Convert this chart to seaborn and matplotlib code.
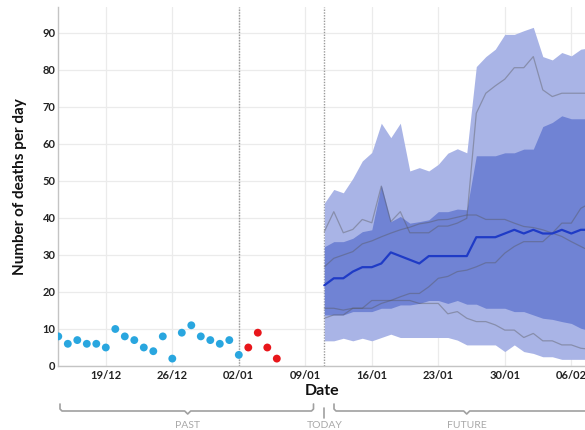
import pandas as pd
import numpy as np
import matplotlib.pyplot as plt
import matplotlib.dates as mdates
from matplotlib.lines import Line2D
import seaborn as sns

# observed deaths (blue = reported, red = not yet consolidated)
past_start = '2020-12-14'
blue_deaths = [8, 6, 7, 6, 6, 5, 10, 8, 7, 5, 4, 8, 2, 9, 11, 8, 7, 6, 7, 3]
red_start = '2021-01-03'
red_deaths = [5, 9, 5, 2]

# forecast from "today" (11/01)
fc_start = '2021-01-11'
upper95 = [44.0, 47.7, 46.8, 50.7, 55.4, 57.7, 65.6, 61.7, 65.6, 52.7, 53.6, 52.7, 54.5, 57.5, 58.7,
           57.6, 80.9, 83.6, 85.6, 89.6, 89.6, 90.6, 91.5, 83.6, 82.7, 84.7, 83.8, 85.6, 86.0]
upper75 = [32.2, 33.6, 33.6, 34.5, 36.3, 36.8, 48.9, 39.0, 40.4, 38.6, 39.0, 39.5, 41.7, 41.7, 42.4,
           42.2, 56.8, 56.8, 56.8, 57.6, 57.6, 58.6, 58.6, 64.7, 65.8, 67.6, 66.8, 66.8, 66.8]
median = [21.8, 23.7, 23.7, 25.5, 26.7, 26.7, 27.7, 30.7, 29.7, 28.7, 27.7, 29.7, 29.7, 29.7, 29.7,
          29.7, 34.8, 34.8, 34.8, 35.8, 36.8, 35.8, 36.8, 35.8, 35.8, 36.8, 35.8, 36.8, 36.8]
lower25 = [13.8, 13.8, 13.8, 14.7, 14.7, 14.7, 15.6, 15.6, 16.5, 16.5, 16.9, 17.7, 17.7, 16.9, 17.7,
           16.7, 16.7, 15.6, 15.6, 15.6, 14.7, 14.7, 13.8, 12.9, 12.6, 12.0, 11.5, 10.2, 9.5]
lower05 = [6.8, 6.8, 7.5, 6.8, 7.5, 6.8, 7.7, 8.6, 7.7, 7.7, 7.7, 7.7, 7.7, 7.7, 7.0,
           5.7, 5.7, 5.7, 5.7, 3.9, 5.7, 3.9, 3.4, 2.5, 2.5, 1.8, 1.8, 1.8, 1.8]

# sample trajectories (thin gray lines)
traj_a = [36.3, 41.7, 36.0, 36.9, 39.6, 38.7, 48.6, 39.0, 41.7, 36.0, 36.0, 36.0, 37.8, 37.8, 38.6,
          39.9, 68.3, 73.7, 75.7, 77.5, 80.6, 80.6, 83.6, 74.6, 72.8, 73.7, 73.7, 73.7, 73.7]
traj_b = [26.8, 29.1, 30.0, 30.9, 33.0, 33.8, 34.9, 35.9, 36.8, 37.5, 38.4, 38.8, 39.5, 39.6, 40.2,
          40.8, 40.8, 39.6, 39.6, 39.6, 38.6, 37.7, 37.4, 36.8, 35.9, 35.0, 33.6, 32.3, 31.0]
traj_c = [15.6, 15.6, 15.1, 15.6, 15.6, 17.7, 17.7, 17.7, 18.7, 19.6, 19.6, 21.4, 23.7, 24.2, 25.5,
          25.9, 26.8, 27.9, 27.9, 30.5, 32.3, 33.6, 33.6, 33.6, 35.9, 38.6, 38.6, 42.6, 44.0]
traj_d = [12.9, 13.8, 13.8, 15.6, 15.6, 15.6, 16.9, 17.7, 17.7, 17.7, 16.9, 16.9, 16.9, 14.1, 14.7,
          12.9, 12.0, 12.0, 11.1, 9.7, 9.7, 7.7, 8.8, 6.8, 6.8, 5.7, 5.7, 4.8, 4.5]

tick_dates = ['2020-12-19', '2020-12-26', '2021-01-02', '2021-01-09', '2021-01-16',
              '2021-01-23', '2021-01-30', '2021-02-06']

past = pd.DataFrame({'date': pd.date_range(past_start, periods=len(blue_deaths)), 'deaths': blue_deaths})
recent = pd.DataFrame({'date': pd.date_range(red_start, periods=len(red_deaths)), 'deaths': red_deaths})
fc = pd.DataFrame({'date': pd.date_range(fc_start, periods=len(median)),
                   'upper95': upper95, 'upper75': upper75, 'median': median,
                   'lower25': lower25, 'lower05': lower05,
                   'a': traj_a, 'b': traj_b, 'c': traj_c, 'd': traj_d})

sns.set_style('white')
plt.rcParams['font.family'] = ['Lato', 'DejaVu Sans']

W, H = 585, 430
fig = plt.figure(figsize=(W / 100, H / 100), dpi=100)
ax = fig.add_axes([58.3 / W, (H - 366) / H, (W - 58.3) / W, 359 / H])

# bands
ax.fill_between(fc['date'], fc['lower05'], fc['upper95'], color='#a9b4e6', lw=0, zorder=2)
ax.fill_between(fc['date'], fc['lower25'], fc['upper75'], color='#7083d4', lw=0, zorder=3)
for col in ['a', 'b', 'c', 'd']:
    sns.lineplot(data=fc, x='date', y=col, ax=ax, color='#555555', alpha=0.4, lw=0.9, zorder=4)
sns.lineplot(data=fc, x='date', y='median', ax=ax, color='#1f3bc6', lw=1.6, zorder=5)

sns.scatterplot(data=past, x='date', y='deaths', ax=ax, color='#29a6df', s=32, edgecolor='none', zorder=6)
sns.scatterplot(data=recent, x='date', y='deaths', ax=ax, color='#e8161b', s=32, edgecolor='none', zorder=6)

# dotted markers: last consolidated day and today
for d in ['2021-01-02', '2021-01-11']:
    ax.axvline(pd.Timestamp(d), color='#9a9a9a', ls=(0, (1, 1)), lw=1, zorder=1)

x0 = mdates.date2num(pd.Timestamp(past_start))
ax.set_xlim(x0, x0 + (W - 58.3) / 9.5)
ax.set_ylim(0, 97)
ax.set_yticks(range(0, 100, 10))
ax.set_xticks(pd.to_datetime(tick_dates))
ax.xaxis.set_major_formatter(mdates.DateFormatter('%d/%m'))
ax.grid(True, color='#ebebeb', lw=0.9, zorder=0)
ax.set_axisbelow(True)
ax.tick_params(length=0, labelsize=8, labelcolor='#222222')
ax.tick_params(axis='y', pad=2)
ax.tick_params(axis='x', pad=3)
for lab in ax.get_xticklabels() + ax.get_yticklabels():
    lab.set_fontweight('bold')
for s in ['top', 'right']:
    ax.spines[s].set_visible(False)
for s in ['left', 'bottom']:
    ax.spines[s].set_color('#c4c4c4')
    ax.spines[s].set_linewidth(1)

ax.set_xlabel('Date', fontsize=11.5, fontweight='bold', color='#111111', labelpad=2)
ax.set_ylabel('Number of deaths per day', fontsize=11, fontweight='bold', color='#111111', labelpad=11)


# braces under the axis (PAST / TODAY / FUTURE)
def fx(px):
    return px / W


def fy(py):
    return 1 - py / H


def brace(xa, xb, xm):
    xs = [xa, xa, xa + 2, xm - 3, xm, xm + 3, xb - 2, xb, xb]
    ys = [404, 409, 411, 411, 414, 411, 411, 409, 404]
    fig.add_artist(Line2D([fx(v) for v in xs], [fy(v) for v in ys], color='#a0a0a0', lw=1.2))


brace(60, 313.5, 187.7)
brace(334, 600, 466.7)
fig.add_artist(Line2D([fx(324.3), fx(324.3)], [fy(408), fy(418)], color='#a0a0a0', lw=1.2))
for label, xc in [('PAST', 187.7), ('TODAY', 324.3), ('FUTURE', 466.7)]:
    fig.text(fx(xc), fy(425), label, ha='center', va='center', fontsize=7.5, color='#a8a8a8')

fig.savefig('out.png', dpi=100)
